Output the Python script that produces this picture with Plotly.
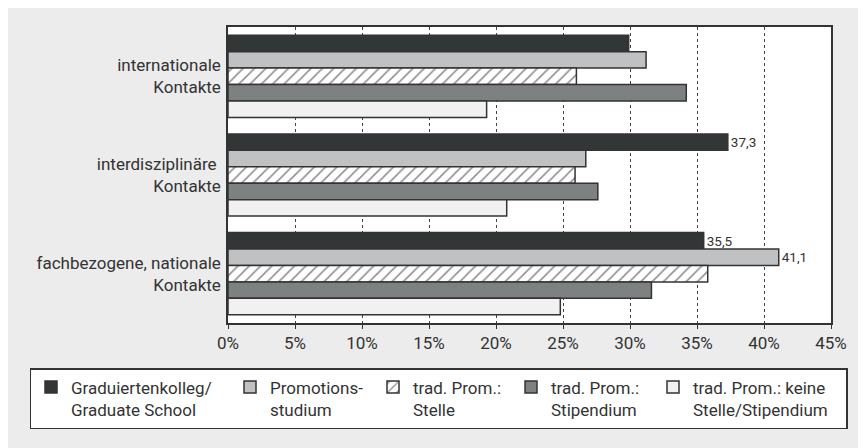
import plotly.graph_objects as go

# ---------------- data ----------------
categories = [
    "internationale<br>Kontakte",
    "interdisziplinäre\u00a0<br>Kontakte",
    "fachbezogene, nationale<br>Kontakte",
]
series_names = [
    "Graduiertenkolleg/<br>Graduate School",
    "Promotions-<br>studium",
    "trad. Prom.:<br>Stelle",
    "trad. Prom.:<br>Stipendium",
    "trad. Prom.: keine<br>Stelle/Stipendium",
]
graduiertenkolleg = [29.9, 37.3, 35.5]
promotionsstudium = [31.2, 26.7, 41.1]
prom_stelle = [26.0, 25.9, 35.8]
prom_stipendium = [34.2, 27.6, 31.6]
prom_keine = [19.3, 20.8, 24.8]
series_values = [graduiertenkolleg, promotionsstudium, prom_stelle, prom_stipendium, prom_keine]
# which bars carry a value label
show_label = [
    [False, True, True],
    [False, False, True],
    [False, False, False],
    [False, False, False],
    [False, False, False],
]
x_ticks = [0, 5, 10, 15, 20, 25, 30, 35, 40, 45]
x_ticktext = [f"{t}%" for t in x_ticks]

# ---------------- style ----------------
# the page adds an 8px white body margin, the figure fills the rest
W, H = 858, 440
L, R, T, B = 220, 35, 19, 125
PW, PH = W - L - R, H - T - B
FONT = "Roboto, Liberation Sans, sans-serif"
TXT = "#333333"
colors = ["#323637", "#c0c1c2", "#ffffff", "#7e8182", "#f1f1f1"]
patterns = ["", "", "/", "", ""]
legend_widths = [154, 98, 93, 97, 148]

def px_x(px):
    return (px - L) / PW

def px_y(py):
    return (H - B - py) / PH

fig = go.Figure()
for name, vals, col, pat, lab, lw in zip(series_names, series_values, colors, patterns,
                                        show_label, legend_widths):
    texts = [f"{v:.1f}".replace(".", ",") if s else "" for v, s in zip(vals, lab)]
    fig.add_trace(go.Bar(
        y=categories, x=vals, orientation="h", name=name,
        marker=dict(color=col, line=dict(color="#333333", width=1.5),
                    pattern=dict(shape=pat, fgcolor="#222222", bgcolor="#ffffff",
                                 size=8, solidity=0.2)),
        text=texts, textposition="outside", cliponaxis=False,
        textfont=dict(family=FONT, size=13.5, color=TXT),
        legendwidth=lw,
    ))

fig.update_layout(
    width=W, height=H,
    margin=dict(l=L, r=R, t=T, b=B, pad=0),
    paper_bgcolor="#ebeceb", plot_bgcolor="#ffffff",
    barmode="group", bargap=1/6, bargroupgap=0,
    font=dict(family=FONT, size=17, color=TXT),
    showlegend=True,
    legend=dict(orientation="h", x=px_x(21.5), y=px_y(360), xanchor="left", yanchor="top",
                bgcolor="#ffffff", bordercolor="#333333", borderwidth=1.5,
                valign="top", font=dict(family=FONT, size=17, color=TXT),
                traceorder="normal", itemclick=False),
    xaxis=dict(range=[0, 45], tickvals=x_ticks, ticktext=x_ticktext,
               showgrid=True, gridcolor="#444444", griddash="dot", gridwidth=1,
               ticks="outside", ticklen=4, tickcolor="#333333", tickwidth=1.2,
               showline=True, mirror=True, linecolor="#333333", linewidth=1.5,
               zeroline=False, tickfont=dict(family=FONT, size=17, color=TXT)),
    yaxis=dict(type="category", autorange="reversed", showline=True, mirror=True,
               linecolor="#333333", linewidth=1.5, ticks="", showgrid=False,
               ticklabelstandoff=2, tickfont=dict(family=FONT, size=17, color=TXT)),
)

fig.write_html("out.html")
